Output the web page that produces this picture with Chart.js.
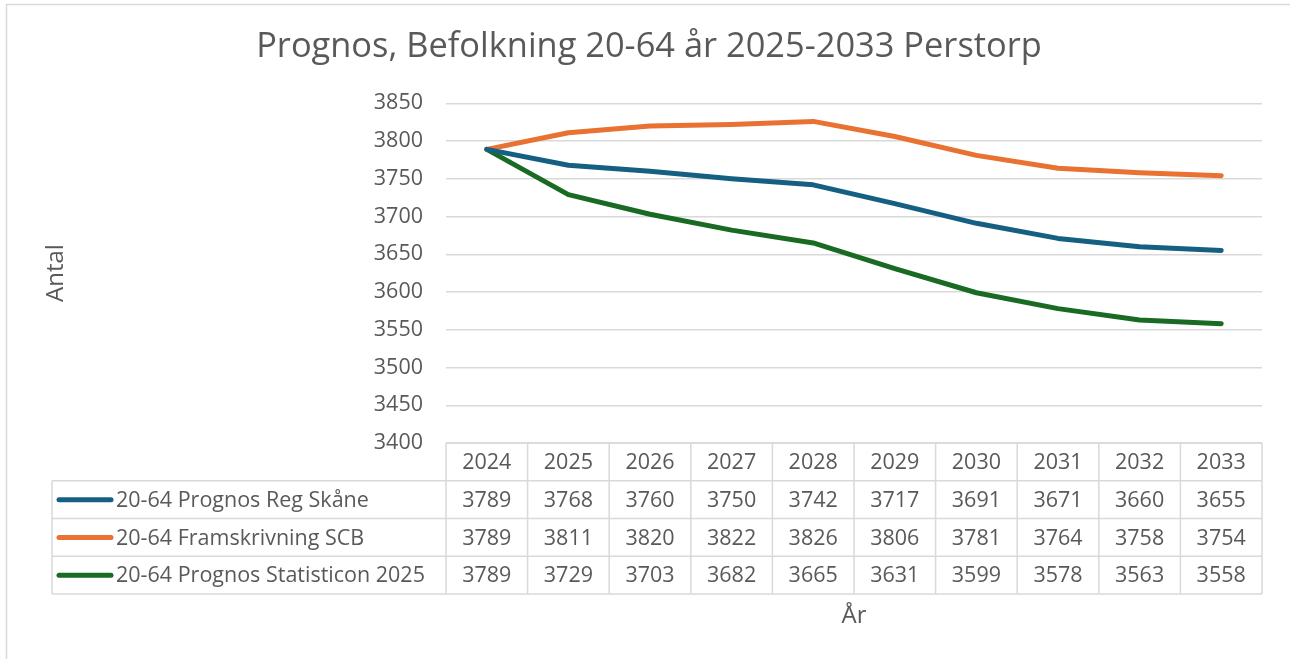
<!DOCTYPE html>
<html>
<head>
<meta charset="utf-8">
<script src="https://cdn.jsdelivr.net/npm/chart.js@4"></script>
<style>
  html, body { margin: 0; padding: 0; background: #fff; }
  #wrap { width: 1290px; height: 659px; position: relative; }
</style>
</head>
<body>
<div id="wrap"><canvas id="mycanvas" width="1290" height="659"></canvas></div>
<script>
var years = ["2024", "2025", "2026", "2027", "2028", "2029", "2030", "2031", "2032", "2033"];
var regSkane = [3789, 3768, 3760, 3750, 3742, 3717, 3691, 3671, 3660, 3655];
var scb = [3789, 3811, 3820, 3822, 3826, 3806, 3781, 3764, 3758, 3754];
var statisticon = [3789, 3729, 3703, 3682, 3665, 3631, 3599, 3578, 3563, 3558];
var seriesNames = ["20-64 Prognos Reg Skåne", "20-64 Framskrivning SCB", "20-64 Prognos Statisticon 2025"];
var seriesColors = ["#156082", "#E97132", "#196B24"];
var yTicks = [3400, 3450, 3500, 3550, 3600, 3650, 3700, 3750, 3800, 3850];

var FONT = "'Open Sans', sans-serif";
var TXT = "#595959";
var LINE = "#d9d9d9";

// draws the frame, axis titles and the data table under the plot
var extras = {
    id: 'extras',
    afterDraw: function(chart) {
        var ctx = chart.ctx;
        var x = chart.scales.x;
        var area = chart.chartArea;
        var n = years.length;
        var colW = (x.right - x.left) / n;
        var rowH = 37.75;
        var top = area.bottom;
        var labelLeft = 52;

        ctx.save();
        // outer frame
        ctx.strokeStyle = LINE;
        ctx.lineWidth = 1.5;
        ctx.strokeRect(6.5, 4.5, 1300, 700);

        // table grid
        ctx.beginPath();
        for (var r = 0; r <= 4; r++) {
            var yy = top + r * rowH;
            ctx.moveTo(r === 0 ? x.left : labelLeft, yy);
            ctx.lineTo(x.right, yy);
        }
        for (var c = 0; c <= n; c++) {
            var xx = x.left + c * colW;
            ctx.moveTo(xx, top);
            ctx.lineTo(xx, top + 4 * rowH);
        }
        ctx.moveTo(labelLeft, top + rowH);
        ctx.lineTo(labelLeft, top + 4 * rowH);
        ctx.stroke();

        ctx.fillStyle = TXT;
        ctx.font = "21.5px " + FONT;
        ctx.textBaseline = "middle";
        ctx.textAlign = "center";
        for (var i = 0; i < n; i++) {
            ctx.fillText(years[i], x.getPixelForValue(i), top + rowH / 2 + 1);
        }
        var rows = [regSkane, scb, statisticon];
        for (var s = 0; s < rows.length; s++) {
            var cy = top + rowH * (s + 1.5);
            ctx.textAlign = "center";
            for (var j = 0; j < n; j++) {
                ctx.fillText(String(rows[s][j]), x.getPixelForValue(j), cy + 1);
            }
            // legend key
            ctx.strokeStyle = seriesColors[s];
            ctx.lineWidth = 5;
            ctx.lineCap = "round";
            ctx.beginPath();
            ctx.moveTo(59, cy);
            ctx.lineTo(111, cy);
            ctx.stroke();
            ctx.textAlign = "left";
            ctx.fillText(seriesNames[s], 116, cy + 1);
        }

        // axis titles
        ctx.textAlign = "center";
        ctx.font = "24px " + FONT;
        ctx.fillText("År", (x.left + x.right) / 2, 616);
        ctx.translate(56, 273);
        ctx.rotate(-Math.PI / 2);
        ctx.fillText("Antal", 0, 0);
        ctx.restore();
    }
};

var ctx = document.getElementById('mycanvas');
var myChart = new Chart(ctx, {
    type: 'line',
    data: {
        labels: years,
        datasets: [
            { label: seriesNames[0], data: regSkane, borderColor: seriesColors[0] },
            { label: seriesNames[1], data: scb, borderColor: seriesColors[1] },
            { label: seriesNames[2], data: statisticon, borderColor: seriesColors[2] }
        ]
    },
    options: {
        responsive: false,
        animation: false,
        devicePixelRatio: 1,
        layout: { padding: { top: 0, bottom: 216, left: 36, right: 28 } },
        elements: {
            line: { borderWidth: 5, tension: 0, borderCapStyle: 'round', borderJoinStyle: 'round' },
            point: { radius: 0 }
        },
        plugins: {
            legend: { display: false },
            tooltip: { enabled: false },
            title: {
                display: true,
                text: "Prognos, Befolkning 20-64 år 2025-2033 Perstorp",
                color: TXT,
                font: { family: FONT, size: 34.4, weight: 'normal' },
                padding: { top: 27, bottom: 35 }
            }
        },
        scales: {
            x: { display: false, offset: true },
            y: {
                min: 3400,
                max: 3850,
                afterBuildTicks: function(scale) {
                    scale.ticks = yTicks.map(function(v) { return { value: v }; });
                },
                afterFit: function(scale) { scale.width = 410; },
                border: { display: false },
                grid: { color: LINE, lineWidth: 1.5, drawTicks: false },
                ticks: {
                    color: TXT,
                    padding: 23,
                    font: { family: FONT, size: 21.5 },
                    callback: function(v) { return String(v); }
                }
            }
        }
    },
    plugins: [extras]
});
</script>
</body>
</html>
